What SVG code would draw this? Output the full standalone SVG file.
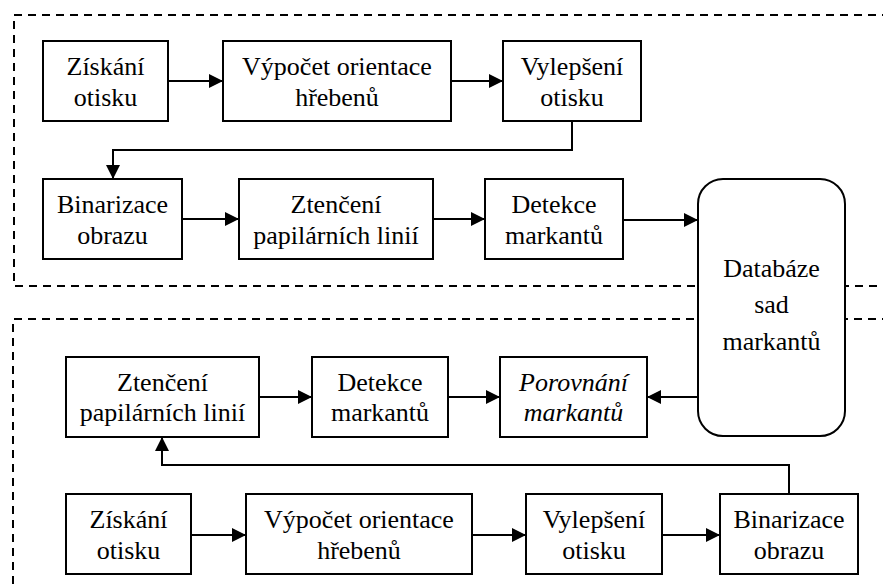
<svg xmlns="http://www.w3.org/2000/svg" width="883" height="587" viewBox="0 0 883 587">
<defs>
<marker id="arr" markerUnits="userSpaceOnUse" markerWidth="15" markerHeight="15" refX="14" refY="7" orient="auto">
<path d="M0,0 L14,7 L0,14 z" fill="#000"/>
</marker>
<style>
.box{fill:#fff;stroke:#000;stroke-width:2}
.dash{fill:none;stroke:#000;stroke-width:2;stroke-dasharray:8 6}
text{font-family:"Liberation Serif",serif;font-size:26px;text-anchor:middle;fill:#000}
.i{font-style:italic}
.c{fill:none;stroke:#000;stroke-width:2;marker-end:url(#arr)}
</style>
</defs>
<rect width="883" height="587" fill="#fff"/>
<g id="regions">
<path class="dash" d="M890,15 L14,15 L14,286 L890,286"/>
<path class="dash" d="M890,319 L13,319 L13,600"/>
</g>
<g id="connectors">
<path class="c" d="M168,81 L223,81"/>
<path class="c" d="M451,81 L503,81"/>
<path class="c" d="M572,121 L572,150 L113,150 L113,179"/>
<path class="c" d="M182,219 L239,219"/>
<path class="c" d="M433,219 L485,219"/>
<path class="c" d="M623,220 L698,220"/>
<path class="c" d="M698,397 L647,397"/>
<path class="c" d="M259,397 L312,397"/>
<path class="c" d="M448,397 L500,397"/>
<path class="c" d="M191,535 L246,535"/>
<path class="c" d="M472,535 L526,535"/>
<path class="c" d="M662,535 L720,535"/>
<path class="c" d="M789,494 L789,465 L162,465 L162,437"/>
</g>
<g id="n1"><rect class="box" x="43" y="41" width="125" height="80"/><text x="105.5" y="75">Získání</text><text x="105.5" y="106">otisku</text></g>
<g id="n2"><rect class="box" x="223" y="41" width="228" height="80"/><text x="337" y="75">Výpočet orientace</text><text x="337" y="106">hřebenů</text></g>
<g id="n3"><rect class="box" x="503" y="41" width="138" height="80"/><text x="572" y="75">Vylepšení</text><text x="572" y="106">otisku</text></g>
<g id="n4"><rect class="box" x="43" y="179" width="139" height="80"/><text x="112.5" y="213">Binarizace</text><text x="112.5" y="244">obrazu</text></g>
<g id="n5"><rect class="box" x="239" y="179" width="194" height="80"/><text x="336" y="213">Ztenčení</text><text x="336" y="244">papilárních linií</text></g>
<g id="n6"><rect class="box" x="485" y="179" width="138" height="80"/><text x="554" y="213">Detekce</text><text x="554" y="244">markantů</text></g>
<g id="db"><rect class="box" x="698" y="179" width="147" height="257" rx="25" ry="25"/><text x="771.5" y="277">Databáze</text><text x="771.5" y="313">sad</text><text x="771.5" y="350">markantů</text></g>
<g id="n7"><rect class="box" x="66" y="357" width="193" height="80"/><text x="162.5" y="391">Ztenčení</text><text x="162.5" y="421">papilárních linií</text></g>
<g id="n8"><rect class="box" x="312" y="357" width="136" height="80"/><text x="380" y="391">Detekce</text><text x="380" y="421">markantů</text></g>
<g id="n9"><rect class="box" x="500" y="357" width="147" height="80"/><text class="i" x="573.5" y="391">Porovnání</text><text class="i" x="573.5" y="421">markantů</text></g>
<g id="n10"><rect class="box" x="66" y="494" width="125" height="80"/><text x="128.5" y="528">Získání</text><text x="128.5" y="559">otisku</text></g>
<g id="n11"><rect class="box" x="246" y="494" width="226" height="80"/><text x="359" y="528">Výpočet orientace</text><text x="359" y="559">hřebenů</text></g>
<g id="n12"><rect class="box" x="526" y="494" width="136" height="80"/><text x="594" y="528">Vylepšení</text><text x="594" y="559">otisku</text></g>
<g id="n13"><rect class="box" x="720" y="494" width="138" height="80"/><text x="789" y="528">Binarizace</text><text x="789" y="559">obrazu</text></g>
</svg>
